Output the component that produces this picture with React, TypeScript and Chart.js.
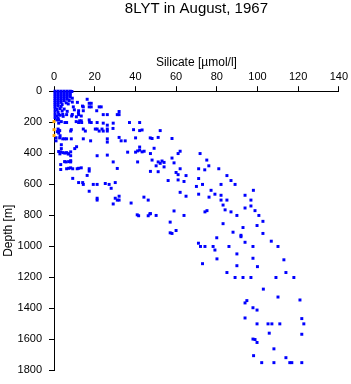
import { useEffect, useRef } from "react";
import { Chart, registerables } from "chart.js";

Chart.register(...registerables);

const TITLE = "8LYT in August, 1967";
const X_LABEL = "Silicate [µmol/l]";
const Y_LABEL = "Depth [m]";
const X_TICKS = [0, 20, 40, 60, 80, 100, 120, 140];
const Y_TICKS = [0, 200, 400, 600, 800, 1000, 1200, 1400, 1600, 1800];

// [silicate µmol/l, depth m]
const surfaceSamples: [number, number][] = [
  [0.5, 0], [2, 0], [3.5, 0], [5, 0], [6.5, 0], [8, 0], [8.8, 2],
  [0.5, 12], [2, 12], [3.5, 12], [5, 12], [6.5, 12], [8, 12],
  [0.5, 24], [2, 24], [3.5, 24], [5, 24], [6.5, 24], [8, 24],
  [0.5, 36], [2, 36], [3.5, 36], [5, 36], [6.5, 36], [8, 38],
  [0.5, 48], [2, 48], [3.5, 48], [5, 48], [6.5, 52], [9, 45],
  [0.5, 60], [2, 60], [3.5, 60], [5, 62], [7.5, 60],
  [0.5, 72], [2, 72], [3.5, 72], [6, 75], [9, 70], [11.5, 72],
  [0.5, 84], [2, 84], [4, 86], [7, 82],
  [0.5, 96], [2, 96], [3.5, 98], [9.5, 101], [14, 96],
  [0.5, 110], [1.5, 118], [3, 112], [5, 115], [10, 120],
  [0.5, 130], [2, 135], [4, 128], [6.5, 130], [12, 140],
  [0.5, 150], [1.5, 160], [3, 155], [9, 150], [11, 165],
  [0.5, 170], [2, 175], [4.5, 162],
];

const upperSamples: [number, number][] = [
  [16.3, 52], [17.3, 78], [18.3, 78], [14.4, 101], [17.3, 101], [18.3, 101], [22.2, 101], [23.2, 101],
  [21, 126], [14.4, 126], [12.1, 126], [24.2, 151], [26.2, 151], [32, 131], [32, 151], [31.1, 151],
  [12.1, 151], [13.4, 160], [8.7, 160], [6.2, 151], [2.3, 150], [4.3, 150],
  [1.3, 185], [2.3, 185], [17.3, 185], [18.3, 202], [13.6, 202], [12.1, 202], [21.2, 202], [24.2, 206],
  [29.1, 206], [37.1, 202], [42.1, 202], [26.2, 219], [5.4, 202], [6.2, 202], [3.6, 196], [10.9, 196],
  [12.6, 191], [13.4, 191], [17.5, 200],
  [2.3, 206], [2.3, 252], [1.6, 261], [2.3, 270], [3, 287],
  [20.3, 244], [21.2, 244], [22.2, 257], [23.6, 244], [24.2, 257], [26.2, 257], [26.2, 244], [14.4, 244],
  [15.4, 257], [8.2, 257], [39.1, 248], [42.1, 254], [43.3, 250], [52.2, 254], [2, 244], [2.8, 254],
  [8.5, 248], [29, 240],
  [18, 320], [14.4, 307], [26.2, 307], [26.2, 328], [32, 298], [33, 320], [35, 320], [40.1, 301],
  [47.3, 301], [48.2, 305], [51.2, 298], [58, 305], [2.8, 301], [5.3, 307], [8.5, 307], [4.3, 307],
  [6.2, 307], [1, 300], [1, 320],
  [11.1, 358], [10.2, 370], [3.6, 345], [3.6, 370], [3.3, 391], [4.4, 396], [6.9, 404], [8.2, 391],
  [8.2, 416], [7.2, 404], [2.3, 389], [5.3, 399], [6.2, 396], [2.9, 404],
  [21.2, 416], [26.2, 412], [29.1, 456], [5.9, 456], [8.2, 448], [8.2, 456], [5.2, 454], [7.2, 454],
  [3.3, 473],
  [6.2, 500], [8.2, 494], [9.2, 500], [11.4, 500], [13.4, 494], [12.1, 497], [7.2, 497], [3.3, 505],
  [17.3, 500], [17.3, 515], [31.1, 498], [16.3, 543], [9.2, 562],
  [12.1, 589], [14.1, 589], [14.4, 601], [19.3, 601], [21.2, 601], [25.2, 595], [27.1, 601], [30.1, 589],
  [28.1, 626], [17.3, 645], [21.2, 690], [21.2, 702], [32, 677], [30.1, 690], [31.1, 702], [32, 702],
  [29.1, 727],
  [36.2, 393], [40.1, 393], [41.1, 385], [42.1, 380], [43.3, 391], [44.3, 387], [42.1, 360], [49.2, 368],
  [41.1, 456], [37.9, 721], [44.2, 683], [46.3, 702], [40.9, 797], [41.6, 803], [47.1, 791], [46.3, 803],
];

const deepSamples: [number, number][] = [
  [62, 387], [61, 402], [47.4, 402], [71.8, 402], [75.1, 444], [48.2, 444], [51.2, 456], [53.1, 450],
  [54.1, 459], [52.2, 465], [58, 431], [59, 462], [50.2, 481], [54.1, 488], [76.1, 481], [71.1, 500],
  [62, 500], [74.1, 507], [81, 500], [47.4, 517], [51.2, 519], [60, 524], [61, 538], [64.9, 544],
  [85, 544], [71.1, 563], [87, 576], [56.1, 576], [61, 572], [63.9, 582], [89, 601], [82.1, 601],
  [73, 601], [70, 614], [77.2, 639], [98, 639], [62, 652], [71.1, 664], [79.1, 664], [93.9, 671],
  [82.1, 671], [64.9, 677], [76.2, 683], [82.1, 702], [85, 702], [96.8, 702], [83.1, 734], [96.8, 740],
  [93.9, 753], [84.1, 765], [98.8, 770], [75.2, 770], [74.2, 778], [87, 778], [59, 772], [47.4, 789],
  [50.2, 801], [63.9, 801], [89.9, 801], [100.7, 801], [102.7, 839], [57.1, 844], [83.1, 854],
  [99.8, 866], [92.9, 879], [60, 898], [57.1, 913], [58, 917], [88, 909], [91.9, 929], [91.9, 938],
  [102.7, 917], [80, 945], [71, 980], [93.9, 974], [106.8, 967], [72, 1001], [74.2, 1001], [78.2, 1001],
  [86, 1001], [97.8, 1001], [110.1, 1001], [79.1, 1024], [89.9, 1049], [80.1, 1081], [97.8, 1077],
  [113, 1087], [73, 1112], [89.9, 1125], [100, 1131], [85, 1169], [114, 1169], [89, 1201], [92.9, 1201],
  [96.8, 1201], [109.1, 1201], [117.9, 1201], [102.9, 1276], [110.1, 1327], [120.9, 1346], [94.8, 1350],
  [93.9, 1365], [97.8, 1396], [99.8, 1411], [93.9, 1462], [121.8, 1466], [99.8, 1500], [105.2, 1500],
  [107.1, 1500], [111, 1500], [122.8, 1500], [105.8, 1560], [121.8, 1567], [97.8, 1598], [98.8, 1601],
  [99.8, 1620], [108.1, 1661], [114, 1718], [98.1, 1705], [102.1, 1750], [108.1, 1750], [115.9, 1750],
  [116.9, 1750], [121.8, 1750],
];

const flaggedSamples: [number, number][] = [[0, 196], [0, 248], [0, 286]];

const FONT = '"Liberation Sans", Arial, Helvetica, sans-serif';

export default function App() {
  const ref = useRef<HTMLCanvasElement>(null);
  useEffect(() => {
    const toPts = (a: [number, number][]) => a.map(([x, y]) => ({ x, y }));
    const blue = [...surfaceSamples, ...upperSamples, ...deepSamples];
    const chart = new Chart(ref.current!, {
      type: "scatter",
      data: {
        datasets: [
          {
            data: toPts(flaggedSamples),
            backgroundColor: "#ffa500",
            pointStyle: "rect",
            pointRadius: 2.1,
            borderWidth: 0,
            clip: false,
          } as any,
          {
            data: toPts(blue),
            backgroundColor: "#0000ff",
            pointStyle: "rect",
            pointRadius: 2.1,
            borderWidth: 0,
            clip: false,
          } as any,
        ],
      },
      options: {
        responsive: false,
        animation: false,
        devicePixelRatio: 1,
        layout: { padding: { left: 0, top: 0, right: 12, bottom: 9 } },
        plugins: {
          legend: { display: false },
          tooltip: { enabled: false },
          title: {
            display: true,
            text: TITLE,
            fullSize: false,
            color: "#000",
            font: { family: FONT, size: 15, weight: "normal" },
            padding: { top: 0, bottom: 0 },
          },
        },
        scales: {
          x: {
            type: "linear",
            position: "top",
            min: 0,
            max: 140,
            afterBuildTicks: (s: any) => {
              s.ticks = X_TICKS.map((v) => ({ value: v }));
            },
            afterFit: (s: any) => {
              s.height = 73.2;
            },
            ticks: {
              color: "#000",
              font: { family: FONT, size: 11 },
              padding: 3,
              maxRotation: 0,
              autoSkip: false,
              callback: (v: any) => String(v),
            },
            grid: { drawOnChartArea: false, drawTicks: true, tickLength: 5, color: "#000", lineWidth: 1 },
            border: { display: true, color: "#000", width: 1 },
            title: {
              display: true,
              text: X_LABEL,
              color: "#000",
              font: { family: FONT, size: 12 },
              padding: { top: 37.6, bottom: 0 },
            },
          },
          y: {
            type: "linear",
            position: "left",
            reverse: true,
            min: 0,
            max: 1800,
            afterBuildTicks: (s: any) => {
              s.ticks = Y_TICKS.map((v) => ({ value: v }));
            },
            afterFit: (s: any) => {
              s.width = 54;
            },
            ticks: {
              color: "#000",
              font: { family: FONT, size: 11 },
              padding: 7,
              autoSkip: false,
              callback: (v: any) => String(v),
            },
            grid: { drawOnChartArea: false, drawTicks: true, tickLength: 5, color: "#000", lineWidth: 1 },
            border: { display: true, color: "#000", width: 1 },
            title: {
              display: true,
              text: Y_LABEL,
              color: "#000",
              font: { family: FONT, size: 12 },
              padding: { top: 1, bottom: 0 },
            },
          },
        },
      } as any,
    });
    return () => chart.destroy();
  }, []);
  return (
    <div style={{ position: "fixed", left: 0, top: 0, width: 351, height: 384, background: "#fff" }}>
      <canvas ref={ref} width={351} height={384} style={{ display: "block" }} />
    </div>
  );
}
